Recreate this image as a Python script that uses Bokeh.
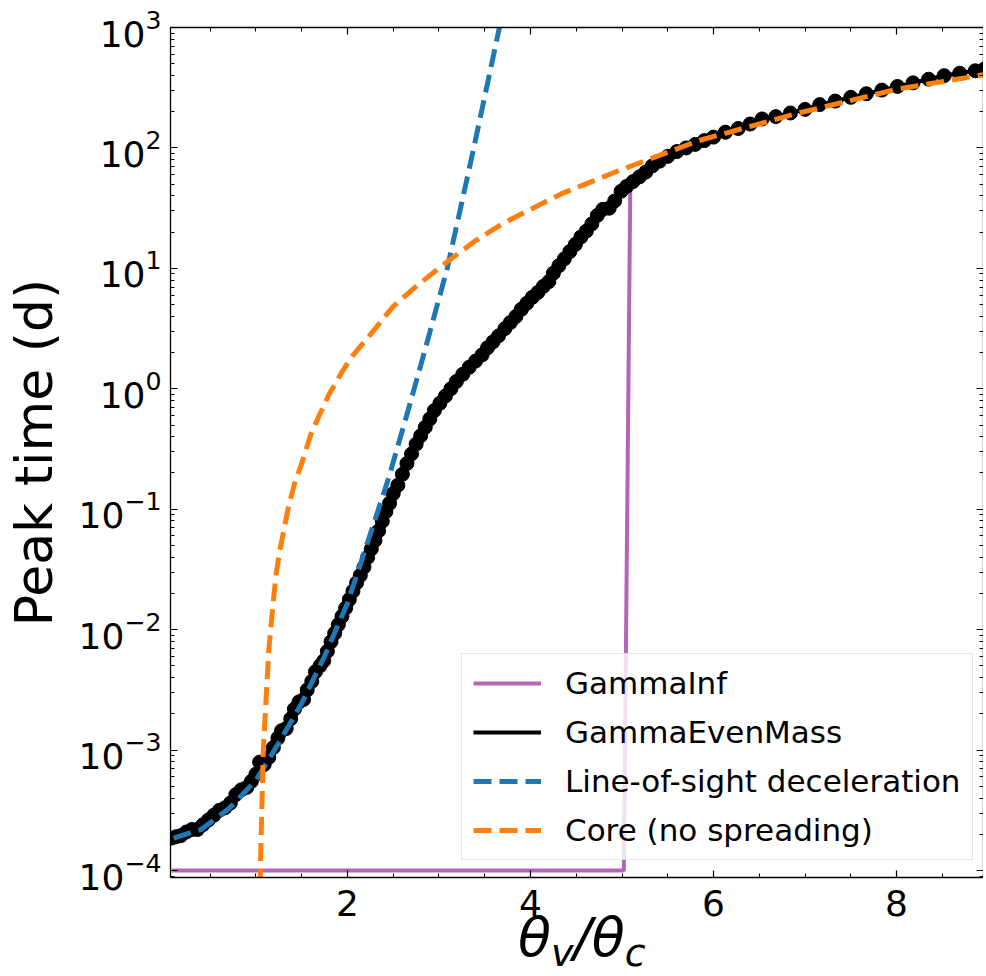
from bokeh.plotting import figure
from bokeh.layouts import column
from bokeh.models import (Range1d, LinearAxis, LogAxis, SingleIntervalTicker, LogTicker,
                          Legend, LegendItem, Div, CustomJSTickFormatter)
from bokeh.embed import file_html
from bokeh.resources import INLINE

FONT = "DejaVu Sans"

# ---------------- data ----------------
# GammaInf (purple)
gi_x = [0.08, 5.02, 5.09, 5.19, 5.33, 5.5, 5.7, 6.0, 6.5, 7.0, 7.5, 8.0, 8.5, 8.97]
gi_y = [1e-4, 1e-4, 45.7, 55, 69, 84, 99, 122, 170, 208, 262, 322, 396, 455]

# GammaEvenMass (black, markers)
gem_x = [0.08, 0.13, 0.18, 0.24, 0.30, 0.36, 0.42, 0.48, 0.54, 0.60, 0.66, 0.72, 0.78, 0.84,
         0.90, 0.95, 1.00, 1.04, 1.09, 1.14, 1.19, 1.24, 1.28, 1.33, 1.38, 1.42, 1.47, 1.52,
         1.56, 1.61, 1.65, 1.70, 1.74, 1.78, 1.82, 1.86, 1.90, 1.94, 1.98, 2.02, 2.06, 2.10,
         2.14, 2.18, 2.22, 2.26, 2.30, 2.34, 2.38, 2.42, 2.46, 2.50, 2.55, 2.60, 2.65, 2.70,
         2.75, 2.80, 2.85, 2.90, 2.95, 3.01, 3.07, 3.13, 3.19, 3.26, 3.33, 3.40, 3.47, 3.53,
         3.59, 3.65, 3.72, 3.78, 3.84, 3.90, 3.96, 4.02, 4.08, 4.14, 4.20, 4.25, 4.31, 4.37,
         4.43, 4.49, 4.55, 4.61, 4.67, 4.73, 4.79, 4.86, 4.92, 4.99, 5.05, 5.12, 5.19, 5.26,
         5.33, 5.41, 5.50, 5.60, 5.70, 5.80, 5.90, 6.00, 6.13, 6.27, 6.40, 6.53, 6.68, 6.84,
         7.00, 7.16, 7.33, 7.50, 7.67, 7.84, 8.01, 8.18, 8.35, 8.52, 8.69, 8.86, 8.97]
gem_y = [1.86e-4, 1.91e-4, 1.95e-4, 2.09e-4, 2.19e-4, 2.19e-4, 2.40e-4, 2.63e-4, 2.88e-4,
         3.16e-4, 3.31e-4, 3.63e-4, 4.27e-4, 4.68e-4, 4.90e-4, 5.50e-4, 6.31e-4, 7.94e-4,
         7.59e-4, 8.71e-4, 1.05e-3, 1.26e-3, 1.45e-3, 1.51e-3, 1.82e-3, 2.19e-3, 2.51e-3,
         2.63e-3, 3.16e-3, 3.72e-3, 4.47e-3, 5.01e-3, 5.50e-3, 6.61e-3, 7.94e-3, 9.33e-3,
         1.10e-2, 1.29e-2, 1.51e-2, 1.78e-2, 2.09e-2, 2.45e-2, 2.82e-2, 3.31e-2, 3.98e-2,
         4.68e-2, 5.50e-2, 6.61e-2, 7.94e-2, 9.55e-2, 0.112, 0.135, 0.158, 0.195, 0.240,
         0.288, 0.347, 0.407, 0.479, 0.562, 0.661, 0.759, 0.871, 1.00, 1.15, 1.32, 1.51,
         1.70, 1.91, 2.19, 2.45, 2.75, 3.16, 3.55, 3.98, 4.57, 5.13, 5.75, 6.31, 7.08, 7.76,
         9.12, 10.5, 12.0, 13.8, 15.8, 18.2, 20.4, 23.4, 27.5, 30.9, 31.6, 36.3, 43.7, 47.9,
         52.5, 57.5, 63.1, 70.8, 77.6, 85.1, 93.3, 100, 107, 115, 123, 135, 145, 158, 174,
         182, 195, 209, 229, 245, 263, 282, 302, 324, 347, 372, 398, 417, 437, 457]

# Line-of-sight deceleration (blue dashed)
los_x = [0.1, 0.4, 0.7, 1.0, 1.25, 1.5, 1.75, 2.0, 2.1, 2.2, 2.33, 2.45, 2.56, 2.67, 2.78,
         2.9, 3.0, 3.09, 3.25, 3.38, 3.52, 3.66, 3.72]
los_y = [1.86e-4, 2.19e-4, 3.24e-4, 5.62e-4, 1.15e-3, 2.45e-3, 6.03e-3, 1.66e-2, 2.82e-2,
         4.79e-2, 9.55e-2, 0.182, 0.355, 0.692, 1.38, 2.95, 5.62, 10.0, 35.5, 100, 316,
         1000, 1585]

# Core (no spreading) (orange dashed)
core_x = [1.03, 1.05, 1.08, 1.14, 1.19, 1.22, 1.26, 1.35, 1.42, 1.5, 1.6, 1.68, 1.8, 1.94,
          2.05, 2.25, 2.5, 2.78, 3.1, 3.4, 3.69, 4.0, 4.34, 4.96, 5.84, 6.93, 8.02, 8.97]
core_y = [1e-5, 1.2e-4, 1.0e-3, 6.76e-3, 1.74e-2, 2.88e-2, 4.52e-2, 0.1, 0.162, 0.24, 0.42,
          0.575, 0.904, 1.38, 1.86, 2.82, 4.83, 7.41, 11.5, 17.0, 23.4, 30.9, 41.7, 64.6,
          115, 195, 309, 407]

legend_labels = ["GammaInf", "GammaEvenMass", "Line-of-sight deceleration", "Core (no spreading)"]

# ---------------- figure ----------------
p = figure(frame_width=813, frame_height=850, output_backend="svg", toolbar_location=None,
           y_axis_type="log",
           x_range=Range1d(0.066, 8.95), y_range=Range1d(8.75e-5, 1e3),
           min_border_left=164, min_border_right=0, min_border_top=27, min_border_bottom=49)
p.outline_line_color = None
p.xgrid.visible = False
p.ygrid.visible = False

xticker = SingleIntervalTicker(interval=2, num_minor_ticks=4)
yticker = LogTicker(num_minor_ticks=10)


def style_axis(ax, show_labels=True):
    ax.axis_line_color = "black"
    ax.axis_line_width = 1.3
    ax.major_tick_in = 7
    ax.major_tick_out = 0
    ax.minor_tick_in = 4
    ax.minor_tick_out = 0
    ax.major_tick_line_color = "black"
    ax.minor_tick_line_color = "black"
    ax.major_tick_line_width = 1.2
    ax.minor_tick_line_width = 1
    ax.major_label_text_font = FONT
    ax.major_label_text_color = "black"
    if show_labels:
        ax.major_label_text_font_size = "36px"
    else:
        ax.formatter = CustomJSTickFormatter(code="return ''")
        ax.major_label_text_font_size = "1px"
        ax.major_label_standoff = 0
        ax.axis_label_standoff = 0


xa = p.xaxis[0]
xa.ticker = xticker
style_axis(xa)
xa.major_label_standoff = 12

ya = p.yaxis[0]
ya.ticker = yticker
style_axis(ya)
ya.major_label_standoff = 9
ya.axis_label = "Peak time (d)"
ya.axis_label_text_font = FONT
ya.axis_label_text_font_size = "52px"
ya.axis_label_text_font_style = "normal"
ya.axis_label_text_color = "black"
ya.axis_label_standoff = 12

top = LinearAxis(ticker=xticker)
style_axis(top, False)
p.add_layout(top, "above")
right = LogAxis(ticker=yticker)
style_axis(right, False)
p.add_layout(right, "right")

# ---------------- glyphs ----------------
r_gi = p.line(gi_x, gi_y, line_color="purple", line_alpha=0.6, line_width=4)
r_gem = p.line(gem_x, gem_y, line_color="black", line_width=4)
p.scatter(gem_x, gem_y, size=14, fill_color="black", line_color="black")
r_los = p.line(los_x, los_y, line_color="#1f77b4", line_width=5, line_dash="18 8")
r_core = p.line(core_x, core_y, line_color="#ff7f0e", line_width=5, line_dash="18 8")

legend = Legend(items=[LegendItem(label=legend_labels[0], renderers=[r_gi]),
                       LegendItem(label=legend_labels[1], renderers=[r_gem]),
                       LegendItem(label=legend_labels[2], renderers=[r_los]),
                       LegendItem(label=legend_labels[3], renderers=[r_core])],
                location=(291, 17))
legend.label_text_font = FONT
legend.label_text_font_size = "31px"
legend.label_text_color = "black"
legend.glyph_width = 68
legend.glyph_height = 30
legend.label_height = 30
legend.label_standoff = 24
legend.spacing = 13
legend.padding = 11
legend.margin = 0
legend.border_line_color = "#cccccc"
legend.border_line_width = 1.5
legend.background_fill_alpha = 0.8
p.add_layout(legend, "center")

# ---------------- x axis label θv/θc (HTML text under the plot) ----------------
xlabel_html = (
    '<div style="margin-left:518px; margin-top:-3px; white-space:nowrap; '
    'font-family:\'DejaVu Sans\'; font-style:italic; font-size:54px; line-height:30px; color:black;">'
    'θ<span style="font-size:38px; position:relative; top:10px;">v</span>/θ'
    '<span style="font-size:38px; position:relative; top:10px;">c</span></div>'
)
xlabel = Div(text=xlabel_html, width=970, height=44, margin=0)

layout = column(p, xlabel, spacing=0)

open("out.html", "w").write(file_html(layout, INLINE))
